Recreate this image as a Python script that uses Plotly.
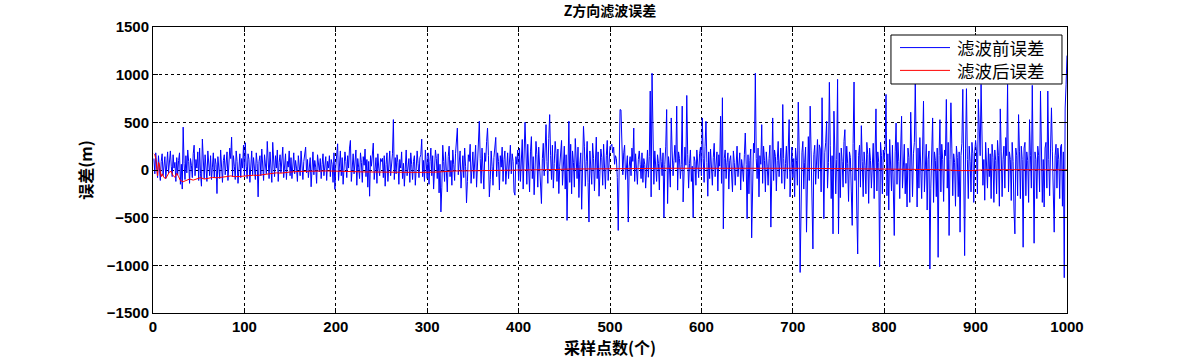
import numpy as np
import plotly.graph_objects as go

# Blue series: error before filtering (one value per sample)
blue_rows = [
    [120, -40, 180, 60, -80, 150, 30, -110, 90, 170, -60, 20, 140, -90, 60, 190, -30, 110, 200, 40, -70, 160, 20, 80, -120, 130, -50, 100, 180, -150, 60, -200, 450, 70, -100, 150, -30, 210, 90, -140, 120, 50, -80, 170, 260, -60, 110, 20, 190, -110],
    [230, -40, -170, 325, 80, -90, 160, 40, -120, 200, 90, -60, 150, -100, 30, 180, -80, 120, 60, -247, 140, 30, -90, 210, 70, -130, 100, 160, -50, 80, 190, -110, 60, 230, 120, 345, -70, 150, 40, -100, 200, 90, -140, 60, 170, -80, 120, 20, 260, -60],
    [286, 40, -90, 170, 110, -130, 60, 200, -50, 130, 20, -100, 180, 70, -282, 90, 150, -60, 220, 30, -110, 160, 80, -40, 300, 120, -90, 190, 50, -130, 290, 100, -70, 150, 20, 210, -120, 80, 160, -30, 110, 240, -80, 50, 170, -100, 90, 30, 200, -60],
    [130, -90, 60, 180, -40, 100, 20, -120, 150, 70, -60, 200, 40, -100, 90, 160, 240, -30, 110, -80, 50, 130, -176, 70, 190, -50, 100, 30, -140, 160, 80, -20, 120, -90, 60, 170, -60, 40, 140, -110, 90, 20, 150, -70, 110, 60, -130, 180, -204, 40],
    [160, 275, -110, 80, 200, -60, 130, -150, 40, 190, 90, -80, 150, 20, 230, 310, -120, 100, 170, -40, 60, 210, -160, 120, 30, -90, 180, 80, -130, 140, 50, 220, -70, 110, -180, 90, -275, 150, 40, 200, 282, -100, 60, 130, -140, 170, 20, -60, 120, 90],
    [123, -80, 150, -170, 60, 180, -120, 90, 200, -60, 40, 170, 529, -100, 130, -40, 160, 80, -150, 110, 20, 190, -90, 70, -170, 140, 210, -60, 30, 120, -130, 180, 60, -100, 90, 150, -160, 40, 200, 70, -80, 130, 160, 324, -70, 100, -120, 210, 50, -90],
    [180, -150, 90, 230, -60, 150, -200, 40, 210, 120, -90, 170, -240, 60, -440, -180, 260, 90, -120, 190, 30, -230, 140, 250, -70, 100, -160, 210, 60, -110, 170, 290, 440, -50, 120, 200, -190, 80, 150, -80, 230, 40, -345, -120, 160, 90, 270, -140, 60, 190],
    [-90, 150, 260, -180, 80, 210, 511, 120, -140, 230, 60, -200, 180, 90, 300, 440, 150, -282, -100, 200, 40, -160, 130, 250, 342, -70, 180, 90, -210, 150, 30, 240, -120, 110, 200, -150, 60, 180, -90, 130, 260, -40, 170, 90, -230, -264, 140, 60, 210, -110],
    [230, -120, 180, 320, -200, 90, 500, 210, -150, 270, 60, -230, 190, 350, -90, 140, -260, 80, 300, 160, -180, 240, 40, -210, -352, 120, 280, -60, 200, 476, 90, -140, 330, 581, 150, -100, 260, -190, 70, 300, 170, -120, 220, -247, 40, 180, 310, -160, 90, 250],
    [-200, 160, -529, 120, 511, -130, 270, -250, 200, 80, -180, 330, 150, -90, 240, -289, 60, 180, -412, 110, 458, 250, -170, 90, 300, -130, -546, 200, 60, -150, 280, 120, -220, 160, 345, -90, 190, -275, 50, 220, 130, -160, 270, 40, -200, 150, 310, -110, 88, 250],
    [250, 270, 180, 240, 60, 150, 120, -80, -634, 100, 634, 630, 220, -50, 180, 260, -100, 80, 150, -546, 40, 140, -60, 230, 90, 440, -120, 170, 30, -150, 110, 200, 60, -90, 180, -130, 120, 60, -190, 90, 210, -76, 140, 828, -282, 1015, 80, -150, 200, 60],
    [-120, 160, 70, -210, 230, 90, -60, 180, -500, 60, 250, 634, -352, 140, 30, -180, 546, 200, -60, 100, 260, 80, 670, -211, 190, 120, -90, 60, 670, -335, 100, 240, 50, 782, 160, -190, 70, 210, -120, 40, -500, 140, 90, -160, 210, 60, -80, 170, 240, -60],
    [546, 120, -130, 250, 511, 80, -275, 190, -90, 220, 60, -160, 130, 280, -70, 100, 190, -220, 160, 40, 564, -140, 758, -617, 120, 210, -90, 80, 180, -200, 100, 150, -40, -229, 200, 80, -160, 130, 250, -70, 50, 180, -210, 110, 20, -120, 160, 388, 60, -511],
    [160, -250, 100, 220, -712, 80, 280, 180, 1015, 120, -90, 230, -282, 150, 60, 476, -140, 250, 100, -230, 190, 40, -160, 120, 260, -599, 80, 546, -110, 210, 140, -220, 100, 300, -70, 160, 230, -140, 687, 120, -200, 70, 250, -90, 180, 529, -282, 130, 240, -80],
    [120, -280, 230, 100, -160, 712, 200, -1075, -300, 180, 300, -200, 80, 240, -652, 120, 350, -110, 670, 200, -280, -828, 160, 260, -150, 70, 320, -90, 264, 220, -230, 758, 110, -511, 180, 290, 511, -190, 80, 920, 260, -300, 150, -670, 617, 190, -250, 110, 951, -670],
    [180, -290, 230, 90, -180, 300, 423, -140, 250, 70, -330, 190, 130, -230, -581, 280, 923, -110, 210, -420, -881, 150, 260, -180, 465, 90, -280, 190, 50, -250, 290, 160, -350, 230, 100, -190, 170, 280, -300, 110, 641, -220, 190, 80, -1015, 290, 150, -250, 210, 110],
    [230, 793, -270, 170, -420, 320, 110, -220, 260, -340, -687, 190, 493, -150, 290, 90, -300, 210, 564, -190, 150, 270, -250, 70, -388, 230, 130, -340, 606, 190, -280, 170, 290, 916, 110, -388, 230, -190, 340, 80, -300, 210, 722, -230, 160, 270, -420, 110, 200, -1039],
    [-190, 290, 546, -340, 190, 100, -280, 230, -916, 150, 528, -230, 270, 110, -330, 210, 150, 740, -190, 290, -687, 110, 705, 230, -270, 170, 80, -380, 250, 130, -280, 190, -652, 150, 280, 846, -190, -898, 230, 853, 110, -300, 250, 90, -230, 290, 170, -340, 190, 310],
    [190, -250, 740, 310, 150, 898, 250, -160, 110, -317, 290, 80, -190, 230, -70, 170, -300, 270, 130, -340, 210, 100, -250, 310, 150, -380, 641, 190, -280, 110, 250, -190, 340, 150, 898, -230, 190, 110, -320, 290, 90, -420, -670, 230, 150, -270, 581, 190, -300, 250],
    [110, -810, 230, 290, -270, 190, 100, -340, 528, 150, -190, 888, 290, -768, 190, 110, -300, 250, 150, -230, 828, 190, -340, 110, -388, 230, 290, -190, 828, 110, -270, 230, 652, 190, -230, -652, 150, 270, -190, 230, 110, -300, 247, 270, -380, 190, -1130, 650, 900, 1200],
]
blue_y = [v for row in blue_rows for v in row]
blue_x = list(range(1, len(blue_y) + 1))

red_x = [1, 2, 3, 4, 5, 6, 7, 8, 9, 10, 12, 14, 16, 18, 20, 22, 24, 26, 28, 30, 33, 36, 40, 44, 48,
         52, 56, 60, 65, 70, 75, 80, 85, 90, 95, 100, 105, 110, 115, 120, 125, 130, 135, 140, 145,
         150, 160, 170, 180, 190, 200, 215, 230, 250, 270, 290, 310, 330, 350, 380, 410, 440, 455,
         480, 500, 530, 560, 600, 640, 680, 700, 730, 760, 790, 820, 850, 870, 880, 895, 910, 940,
         970, 1000]
red_y = [170, 160, 120, -10, -60, 80, 60, -20, -70, -40, -80, -88, -50, -20, -15, -60, -75, -35, -70,
         -110, -123, -110, -95, -106, -95, -80, -95, -85, -78, -82, -78, -70, -62, -70, -68, -62, -60,
         -55, -56, -50, -40, -35, -30, -33, -25, -21, -15, -12, -10, -10, -12, -18, -20, -22, -25, -25,
         -22, -10, -8, -6, 0, 5, 10, 10, 12, 15, 18, 20, 22, 20, 18, 16, 15, 12, 8, 5, 0, -6, -6, 2, 3,
         2, 2]

names = ["滤波前误差", "滤波后误差"]
colors = ["#0000ff", "#ff0000"]
title_text = "Z方向滤波误差"
xlabel = "采样点数(个)"
ylabel = "误差(m)"
x_ticks = [0, 100, 200, 300, 400, 500, 600, 700, 800, 900, 1000]
y_ticks = [-1500, -1000, -500, 0, 500, 1000, 1500]

fig = go.Figure()
fig.add_trace(go.Scatter(x=blue_x, y=blue_y, mode="lines", name=names[0],
                         line=dict(color=colors[0], width=1), showlegend=False))
fig.add_trace(go.Scatter(x=red_x, y=red_y, mode="lines", name=names[1],
                         line=dict(color=colors[1], width=1), showlegend=False))

tickfont = dict(family="Liberation Sans, Arial", size=15, color="black", weight="bold")
axis_common = dict(showline=True, linecolor="black", linewidth=1, mirror="ticks",
                   ticks="inside", ticklen=5, tickcolor="black", tickwidth=1,
                   showgrid=True, gridcolor="black", gridwidth=1, griddash="3px,3px",
                   zeroline=False, tickfont=tickfont, automargin=False)

cjk = "Noto Sans CJK SC, Liberation Sans"
fig.update_layout(
    width=1183, height=362,
    margin=dict(l=153, r=116, t=27, b=49),
    paper_bgcolor="white", plot_bgcolor="white",
    title=dict(text="<b>" + title_text + "</b>", x=0.5, xref="paper", y=0.968, yanchor="middle",
               font=dict(family=cjk, size=14, color="black")),
    xaxis=dict(range=[0, 1000], tickvals=x_ticks, **axis_common,
               title=dict(text="<b>" + xlabel + "</b>", standoff=6,
                          font=dict(family=cjk, size=16, color="black"))),
    yaxis=dict(range=[-1500, 1500], tickvals=y_ticks, **axis_common,
               title=dict(text="<b>" + ylabel + "</b>", standoff=10,
                          font=dict(family=cjk, size=16, color="black"))),
    showlegend=False,
)

# Legend box drawn in the top-right corner of the plot area (MATLAB style)
box = dict(x0=0.8074, x1=0.9945, y0=0.8007, y1=0.972)
fig.add_shape(type="rect", xref="paper", yref="paper", **box,
              line=dict(color="black", width=1), fillcolor="white", layer="above")
row_y = [0.9280, 0.8483]
for color, ry in zip(colors, row_y):
    fig.add_shape(type="line", xref="paper", yref="paper", x0=0.8173, x1=0.8720, y0=ry, y1=ry,
                  line=dict(color=color, width=1), layer="above")
fig.add_annotation(xref="paper", yref="paper", x=0.8785, y=0.8881, text="<br>".join(names),
                   showarrow=False, xanchor="left", yanchor="middle", align="left", borderpad=0,
                   font=dict(family="Noto Sans CJK SC", size=17.5, color="black"))

fig.write_html("out.html")
